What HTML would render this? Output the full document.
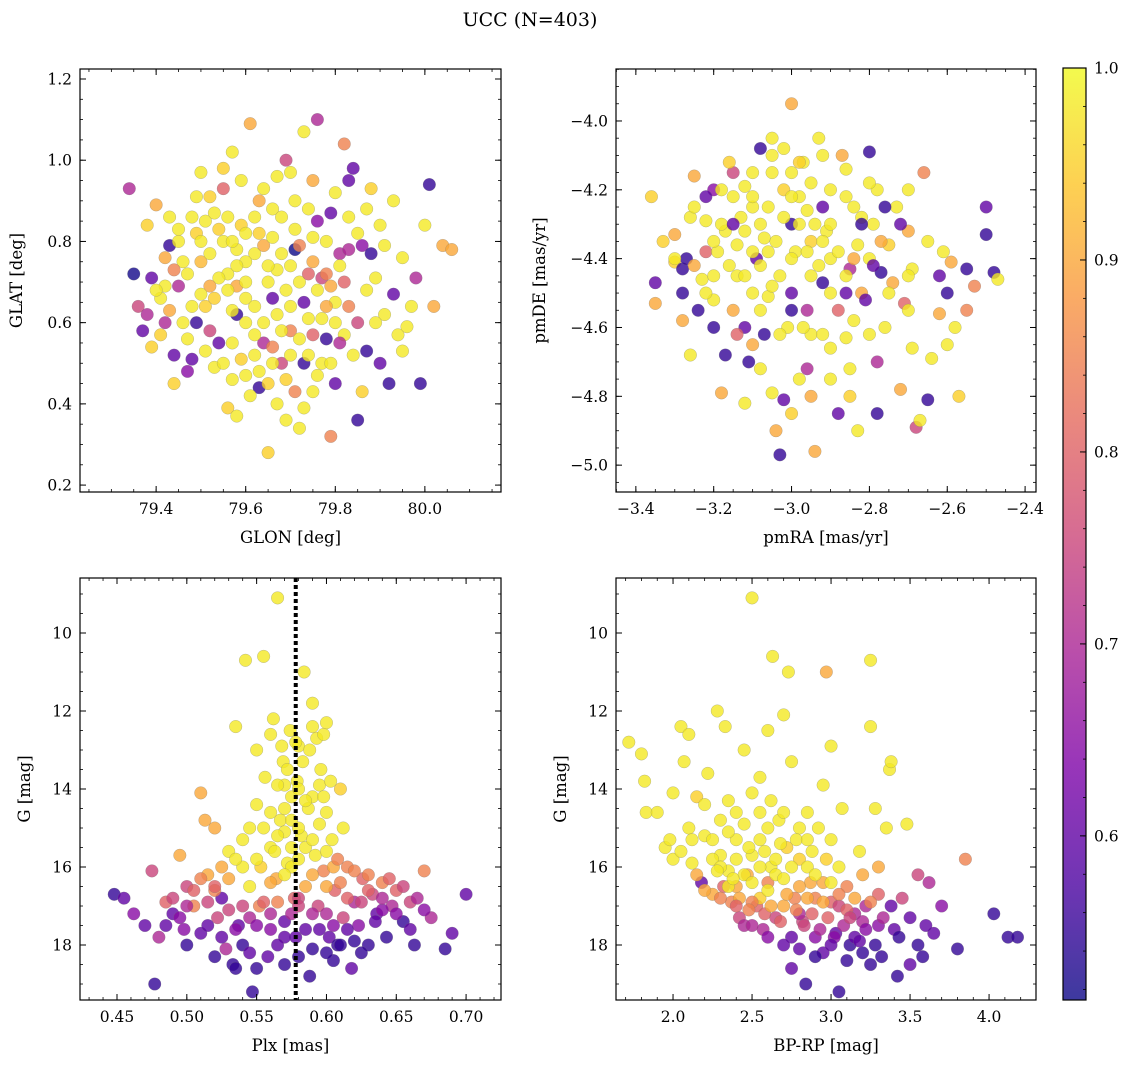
<!DOCTYPE html>
<html><head><meta charset="utf-8">
<style>
html,body{margin:0;padding:0;background:#fff;}
svg{display:block;font-family:"DejaVu Serif","Liberation Serif",serif;}
</style></head>
<body>
<svg id="fig" width="1136" height="1068" viewBox="0 0 1136 1068" xmlns="http://www.w3.org/2000/svg">
<defs>
<linearGradient id="plasma" x1="0" y1="1" x2="0" y2="0">
<stop offset="0" stop-color="#0d0887"/><stop offset="0.125" stop-color="#4c02a1"/><stop offset="0.25" stop-color="#7e03a8"/><stop offset="0.375" stop-color="#a92395"/><stop offset="0.5" stop-color="#cc4778"/><stop offset="0.625" stop-color="#e56b5d"/><stop offset="0.75" stop-color="#f89540"/><stop offset="0.875" stop-color="#fdc527"/><stop offset="1" stop-color="#f0f921"/>
</linearGradient>
</defs>
<text x="530" y="26" font-size="19" text-anchor="middle">UCC (N=403)</text>
</svg>
<script>
const panel1Points=[[79.34,0.93,0.7],[79.35,0.72,0.52],[79.36,0.64,0.75],[79.37,0.58,0.6],[79.38,0.84,0.95],[79.39,0.71,0.6],[79.4,0.89,0.9],[79.39,0.54,0.95],[79.41,0.66,0.98],[79.42,0.76,0.9],[79.43,0.79,0.55],[79.44,0.52,0.6],[79.45,0.69,0.7],[79.46,0.6,0.98],[79.47,0.48,0.65],[79.48,0.86,0.98],[79.49,0.82,0.95],[79.5,0.75,0.92],[79.51,0.64,0.95],[79.5,0.97,0.98],[79.52,0.91,0.95],[79.53,0.49,0.98],[79.54,0.55,0.6],[79.55,0.93,0.8],[79.56,0.72,0.98],[79.57,1.02,0.98],[79.56,0.39,0.95],[79.58,0.37,0.98],[79.58,0.62,0.55],[79.59,0.84,0.95],[79.6,0.66,0.98],[79.61,1.09,0.9],[79.62,0.77,0.98],[79.63,0.44,0.55],[79.64,0.55,0.7],[79.65,0.28,0.95],[79.66,0.88,0.98],[79.67,0.73,0.98],[79.68,0.5,0.75],[79.69,1.0,0.75],[79.7,0.64,0.98],[79.7,0.97,0.98],[79.71,0.78,0.5],[79.72,0.34,0.98],[79.73,1.07,0.98],[79.73,0.5,0.55],[79.74,0.61,0.98],[79.75,0.43,0.98],[79.76,1.1,0.7],[79.76,0.85,0.65],[79.77,0.71,0.75],[79.78,0.56,0.55],[79.79,0.32,0.85],[79.8,0.92,0.98],[79.81,0.77,0.7],[79.8,0.45,0.6],[79.82,1.04,0.85],[79.83,0.64,0.85],[79.84,0.98,0.6],[79.85,0.36,0.55],[79.86,0.79,0.65],[79.87,0.53,0.55],[79.88,0.93,0.95],[79.89,0.71,0.98],[79.9,0.84,0.98],[79.91,0.62,0.98],[79.92,0.45,0.55],[79.93,0.9,0.98],[79.94,0.57,0.98],[79.95,0.76,0.98],[79.96,0.59,0.98],[79.98,0.71,0.7],[79.99,0.45,0.55],[80.0,0.84,0.98],[80.01,0.94,0.55],[80.02,0.64,0.9],[80.04,0.79,0.9],[80.06,0.78,0.9],[79.55,0.8,0.98],[79.6,0.75,0.98],[79.63,0.82,0.95],[79.65,0.7,0.98],[79.67,0.62,0.98],[79.7,0.58,0.85],[79.72,0.7,0.98],[79.75,0.75,0.9],[79.78,0.8,0.98],[79.8,0.65,0.98],[79.77,0.5,0.98],[79.69,0.46,0.95],[79.62,0.57,0.98],[79.58,0.69,0.9],[79.53,0.66,0.95],[79.47,0.72,0.98],[79.45,0.8,0.98],[79.51,0.85,0.98],[79.57,0.55,0.98],[79.66,0.66,0.6],[79.74,0.88,0.98],[79.82,0.7,0.8],[79.85,0.6,0.75],[79.88,0.77,0.55],[79.42,0.6,0.7],[79.44,0.45,0.95],[79.6,0.47,0.98],[79.83,0.86,0.98],[79.78,0.72,0.85],[79.71,0.83,0.98],[79.64,0.93,0.98],[79.52,0.58,0.75],[79.48,0.51,0.6],[79.86,0.43,0.95],[79.9,0.5,0.6]];
const panel1Extra=[[79.5,0.8,0.98],[79.52,0.77,0.98],[79.54,0.83,0.95],[79.56,0.86,0.98],[79.58,0.78,0.98],[79.6,0.82,0.98],[79.62,0.86,0.98],[79.64,0.79,0.9],[79.66,0.81,0.98],[79.68,0.77,0.98],[79.7,0.74,0.98],[79.72,0.79,0.85],[79.74,0.72,0.8],[79.76,0.68,0.98],[79.78,0.64,0.9],[79.8,0.6,0.98],[79.82,0.57,0.98],[79.84,0.52,0.98],[79.76,0.47,0.98],[79.74,0.52,0.98],[79.72,0.56,0.98],[79.7,0.52,0.98],[79.68,0.58,0.98],[79.66,0.54,0.85],[79.64,0.6,0.98],[79.62,0.64,0.98],[79.6,0.7,0.98],[79.58,0.74,0.98],[79.56,0.68,0.98],[79.54,0.71,0.98],[79.52,0.69,0.9],[79.5,0.67,0.98],[79.48,0.64,0.98],[79.46,0.75,0.98],[79.44,0.73,0.85],[79.42,0.69,0.98],[79.4,0.68,0.98],[79.38,0.62,0.7],[79.41,0.57,0.95],[79.43,0.63,0.9],[79.47,0.56,0.98],[79.49,0.6,0.55],[79.51,0.53,0.98],[79.55,0.5,0.98],[79.57,0.46,0.98],[79.59,0.51,0.95],[79.61,0.42,0.98],[79.63,0.48,0.98],[79.65,0.45,0.95],[79.67,0.4,0.98],[79.69,0.36,0.98],[79.71,0.43,0.85],[79.73,0.39,0.98],[79.75,0.57,0.8],[79.77,0.61,0.98],[79.79,0.69,0.9],[79.81,0.74,0.98],[79.83,0.78,0.7],[79.85,0.82,0.98],[79.87,0.68,0.98],[79.89,0.6,0.98],[79.91,0.79,0.98],[79.93,0.67,0.6],[79.95,0.53,0.98],[79.97,0.64,0.98],[79.87,0.88,0.98],[79.83,0.95,0.6],[79.79,0.87,0.6],[79.75,0.95,0.9],[79.71,0.9,0.98],[79.67,0.96,0.98],[79.63,0.9,0.9],[79.59,0.95,0.98],[79.55,0.98,0.95],[79.53,0.87,0.98],[79.49,0.91,0.98],[79.45,0.83,0.98],[79.43,0.86,0.98],[79.69,0.68,0.98],[79.73,0.65,0.6],[79.81,0.55,0.7],[79.79,0.5,0.98],[79.66,0.5,0.98],[79.62,0.52,0.98],[79.6,0.6,0.98],[79.57,0.63,0.98],[79.65,0.74,0.98],[79.68,0.86,0.98],[79.75,0.81,0.98],[79.57,0.8,0.98]];
const panel2Points=[[-3.36,-4.22,0.95],[-3.35,-4.47,0.6],[-3.35,-4.53,0.9],[-3.3,-4.33,0.9],[-3.3,-4.41,0.95],[-3.28,-4.43,0.55],[-3.27,-4.4,0.55],[-3.26,-4.28,0.98],[-3.25,-4.16,0.9],[-3.26,-4.68,0.98],[-3.24,-4.55,0.55],[-3.23,-4.46,0.98],[-3.22,-4.38,0.8],[-3.2,-4.2,0.65],[-3.2,-4.6,0.55],[-3.18,-4.79,0.9],[-3.17,-4.32,0.98],[-3.15,-4.15,0.75],[-3.14,-4.45,0.98],[-3.12,-4.6,0.6],[-3.11,-4.7,0.55],[-3.1,-4.25,0.98],[-3.09,-4.4,0.6],[-3.08,-4.08,0.55],[-3.07,-4.34,0.98],[-3.06,-4.51,0.98],[-3.05,-4.79,0.98],[-3.04,-4.9,0.9],[-3.03,-4.97,0.55],[-3.02,-4.2,0.95],[-3.01,-4.6,0.98],[-3.0,-4.3,0.55],[-2.99,-4.38,0.98],[-2.98,-4.75,0.98],[-2.97,-4.12,0.98],[-2.96,-4.55,0.7],[-2.95,-4.62,0.98],[-2.94,-4.96,0.9],[-2.93,-4.05,0.98],[-2.92,-4.47,0.55],[-2.91,-4.32,0.98],[-2.9,-4.66,0.98],[-2.88,-4.85,0.6],[-2.87,-4.1,0.9],[-2.86,-4.22,0.98],[-2.85,-4.43,0.7],[-2.84,-4.58,0.98],[-2.83,-4.9,0.98],[-2.82,-4.5,0.9],[-2.8,-4.09,0.55],[-2.79,-4.3,0.98],[-2.78,-4.7,0.7],[-2.77,-4.44,0.55],[-2.76,-4.6,0.98],[-2.75,-4.36,0.95],[-2.74,-4.47,0.9],[-2.72,-4.78,0.9],[-2.71,-4.53,0.8],[-2.7,-4.32,0.9],[-2.69,-4.66,0.98],[-2.68,-4.89,0.75],[-2.67,-4.87,0.98],[-2.66,-4.15,0.85],[-2.65,-4.81,0.55],[-2.64,-4.69,0.98],[-2.62,-4.56,0.9],[-2.61,-4.38,0.98],[-2.6,-4.5,0.55],[-2.59,-4.41,0.9],[-2.58,-4.6,0.98],[-2.57,-4.8,0.95],[-2.55,-4.43,0.55],[-2.53,-4.48,0.85],[-2.5,-4.25,0.6],[-2.5,-4.33,0.55],[-2.48,-4.44,0.55],[-2.47,-4.46,0.98],[-3.0,-3.95,0.9],[-3.07,-4.62,0.55],[-3.13,-4.28,0.98],[-3.03,-4.45,0.98],[-2.98,-4.22,0.98],[-2.95,-4.35,0.95],[-3.1,-4.5,0.98],[-2.9,-4.4,0.98],[-2.88,-4.55,0.8],[-3.15,-4.55,0.9],[-3.19,-4.38,0.98],[-3.05,-4.15,0.98],[-2.92,-4.25,0.6],[-2.83,-4.36,0.98],[-3.12,-4.19,0.98],[-3.22,-4.29,0.98],[-2.96,-4.72,0.7],[-3.02,-4.81,0.6],[-2.86,-4.63,0.98],[-3.08,-4.42,0.98],[-2.78,-4.2,0.98],[-2.73,-4.25,0.98],[-2.81,-4.52,0.6],[-3.14,-4.62,0.8],[-3.28,-4.58,0.9],[-2.69,-4.43,0.98],[-3.16,-4.12,0.95]];
const panel2Extra=[[-3.2,-4.35,0.98],[-3.18,-4.3,0.98],[-3.16,-4.42,0.98],[-3.14,-4.36,0.98],[-3.12,-4.32,0.98],[-3.1,-4.38,0.98],[-3.08,-4.3,0.98],[-3.06,-4.25,0.98],[-3.04,-4.35,0.98],[-3.02,-4.28,0.98],[-3.0,-4.22,0.98],[-2.98,-4.3,0.98],[-2.96,-4.26,0.98],[-2.94,-4.3,0.98],[-2.92,-4.35,0.98],[-2.9,-4.3,0.98],[-2.88,-4.38,0.98],[-2.86,-4.45,0.98],[-2.84,-4.4,0.9],[-2.82,-4.28,0.98],[-2.8,-4.4,0.98],[-3.15,-4.22,0.98],[-3.1,-4.15,0.98],[-3.05,-4.1,0.98],[-3.0,-4.15,0.98],[-2.95,-4.18,0.98],[-2.9,-4.2,0.98],[-3.12,-4.45,0.98],[-3.05,-4.48,0.98],[-3.0,-4.4,0.98],[-2.95,-4.45,0.98],[-2.9,-4.5,0.98],[-3.2,-4.52,0.98],[-3.25,-4.42,0.9],[-3.22,-4.5,0.98],[-3.0,-4.55,0.55],[-2.97,-4.6,0.98],[-3.1,-4.65,0.9],[-3.17,-4.68,0.55],[-2.85,-4.72,0.98],[-2.8,-4.62,0.98],[-2.75,-4.5,0.98],[-2.7,-4.45,0.98],[-2.65,-4.35,0.98],[-2.72,-4.3,0.6],[-2.77,-4.35,0.9],[-2.82,-4.3,0.55],[-2.79,-4.42,0.6],[-2.86,-4.5,0.6],[-3.0,-4.5,0.6],[-3.08,-4.55,0.98],[-3.2,-4.45,0.98],[-3.28,-4.5,0.55],[-3.3,-4.4,0.98],[-3.33,-4.35,0.95],[-3.25,-4.25,0.98],[-2.92,-4.62,0.98],[-2.95,-4.8,0.9],[-2.9,-4.75,0.98],[-2.85,-4.8,0.95],[-2.78,-4.85,0.55],[-3.08,-4.72,0.98],[-3.12,-4.82,0.98],[-3.0,-4.85,0.95],[-2.7,-4.55,0.98],[-2.6,-4.65,0.98],[-2.55,-4.55,0.85],[-2.62,-4.45,0.6],[-2.7,-4.2,0.98],[-2.76,-4.25,0.55],[-2.98,-4.12,0.95],[-3.02,-4.08,0.98],[-3.05,-4.05,0.98],[-2.92,-4.1,0.98],[-2.86,-4.14,0.98],[-3.18,-4.2,0.98],[-3.22,-4.22,0.6],[-3.15,-4.3,0.6],[-3.1,-4.22,0.98],[-2.96,-4.38,0.98],[-2.93,-4.42,0.98],[-3.03,-4.62,0.98],[-3.06,-4.38,0.98],[-2.84,-4.25,0.98],[-2.8,-4.18,0.98]];
const panel3Points=[[0.448,16.7,0.55],[0.455,16.8,0.6],[0.462,17.2,0.65],[0.47,17.5,0.6],[0.475,16.1,0.75],[0.477,19.0,0.55],[0.48,17.8,0.7],[0.485,16.9,0.8],[0.49,17.2,0.6],[0.495,15.7,0.9],[0.498,17.6,0.65],[0.5,16.5,0.75],[0.505,17.0,0.85],[0.51,14.1,0.9],[0.513,14.8,0.9],[0.515,16.2,0.9],[0.52,15.0,0.9],[0.522,17.3,0.75],[0.525,16.8,0.6],[0.528,18.1,0.7],[0.53,15.6,0.98],[0.533,18.5,0.55],[0.535,12.4,0.98],[0.537,17.5,0.6],[0.54,15.3,0.98],[0.542,10.7,0.98],[0.545,16.5,0.98],[0.547,19.2,0.55],[0.55,14.4,0.98],[0.552,17.0,0.85],[0.555,10.6,0.98],[0.556,13.7,0.98],[0.558,18.3,0.6],[0.56,15.5,0.98],[0.562,12.2,0.98],[0.564,16.3,0.9],[0.565,9.1,0.98],[0.567,14.8,0.98],[0.569,13.3,0.98],[0.57,17.4,0.6],[0.572,15.9,0.98],[0.574,12.5,0.98],[0.575,14.2,0.98],[0.577,16.8,0.8],[0.579,13.8,0.98],[0.58,18.3,0.55],[0.582,15.2,0.98],[0.584,11.0,0.98],[0.585,16.5,0.9],[0.587,14.5,0.98],[0.588,18.8,0.55],[0.59,12.4,0.98],[0.592,15.7,0.98],[0.594,17.0,0.75],[0.596,13.5,0.98],[0.598,16.1,0.85],[0.6,14.6,0.98],[0.602,17.8,0.6],[0.604,15.3,0.98],[0.606,16.6,0.8],[0.608,18.0,0.55],[0.61,14.0,0.95],[0.612,17.3,0.75],[0.615,16.0,0.85],[0.618,18.6,0.6],[0.62,16.9,0.7],[0.623,17.5,0.65],[0.626,16.3,0.8],[0.63,18.0,0.55],[0.633,16.7,0.75],[0.636,17.2,0.6],[0.64,16.4,0.85],[0.643,17.8,0.55],[0.647,17.0,0.7],[0.65,16.6,0.8],[0.655,17.4,0.55],[0.66,16.9,0.75],[0.663,18.0,0.55],[0.67,16.1,0.85],[0.675,17.3,0.7],[0.685,18.1,0.55],[0.69,17.7,0.6],[0.7,16.7,0.6],[0.57,15.1,0.98],[0.58,14.0,0.98],[0.575,16.0,0.98],[0.585,15.5,0.98],[0.565,16.9,0.85],[0.59,17.2,0.7],[0.56,17.6,0.65],[0.595,14.9,0.98],[0.553,16.0,0.95],[0.578,17.8,0.6],[0.6,16.5,0.9],[0.545,17.3,0.7],[0.615,17.6,0.6],[0.52,16.6,0.85],[0.51,17.7,0.6],[0.58,12.9,0.98],[0.57,13.9,0.98],[0.59,14.2,0.98],[0.563,15.6,0.98],[0.63,16.2,0.85],[0.5,18.0,0.55],[0.54,18.0,0.55],[0.605,18.4,0.55],[0.62,17.9,0.55],[0.64,17.1,0.65]];
const panel3Extra=[[0.57,14.5,0.98],[0.575,14.8,0.98],[0.58,15.0,0.98],[0.585,14.3,0.98],[0.59,15.3,0.98],[0.595,13.9,0.98],[0.6,15.6,0.98],[0.565,15.2,0.98],[0.56,14.6,0.98],[0.555,15.0,0.98],[0.572,13.5,0.98],[0.578,12.8,0.98],[0.583,13.3,0.98],[0.588,13.0,0.98],[0.593,12.7,0.98],[0.598,12.6,0.98],[0.568,12.9,0.98],[0.575,15.5,0.98],[0.58,15.8,0.98],[0.57,16.2,0.98],[0.59,16.2,0.9],[0.56,16.4,0.9],[0.55,15.8,0.98],[0.545,15.0,0.98],[0.54,16.0,0.98],[0.535,15.8,0.98],[0.53,16.3,0.9],[0.525,16.0,0.9],[0.52,16.5,0.8],[0.515,16.9,0.75],[0.51,16.3,0.85],[0.505,16.6,0.8],[0.5,17.0,0.7],[0.495,17.3,0.65],[0.49,16.8,0.75],[0.485,17.5,0.6],[0.605,16.0,0.9],[0.61,16.4,0.85],[0.615,16.8,0.8],[0.62,16.1,0.85],[0.625,16.9,0.75],[0.63,16.6,0.8],[0.635,17.4,0.6],[0.64,16.8,0.7],[0.645,16.3,0.8],[0.65,17.2,0.65],[0.655,16.5,0.75],[0.66,17.6,0.6],[0.665,16.8,0.7],[0.67,17.1,0.65],[0.58,16.8,0.75],[0.575,17.2,0.7],[0.57,17.8,0.6],[0.565,18.0,0.6],[0.56,17.2,0.7],[0.555,16.9,0.8],[0.55,17.5,0.65],[0.545,18.2,0.6],[0.54,17.0,0.75],[0.535,17.6,0.65],[0.53,17.1,0.75],[0.525,17.8,0.6],[0.52,18.3,0.55],[0.515,17.5,0.6],[0.595,17.6,0.6],[0.6,17.2,0.7],[0.605,17.5,0.65],[0.61,18.0,0.55],[0.59,18.1,0.55],[0.585,17.6,0.6],[0.58,17.0,0.75],[0.625,18.2,0.55],[0.6,18.2,0.55],[0.57,18.5,0.55],[0.55,18.6,0.55],[0.535,18.6,0.55],[0.598,14.2,0.98],[0.603,13.8,0.98],[0.608,15.8,0.85],[0.612,15.0,0.98],[0.565,13.9,0.98],[0.55,13.0,0.98],[0.56,12.6,0.98],[0.59,11.8,0.98],[0.6,12.3,0.98]];
const panel4Points=[[1.72,12.8,0.98],[1.8,13.1,0.98],[1.82,13.8,0.98],[1.83,14.6,0.98],[1.9,14.6,0.98],[1.95,15.5,0.98],[1.98,15.3,0.98],[2.0,14.1,0.98],[2.0,15.8,0.98],[2.05,12.4,0.98],[2.07,13.3,0.98],[2.1,12.6,0.98],[2.12,15.9,0.98],[2.15,14.2,0.95],[2.18,16.4,0.6],[2.2,15.2,0.98],[2.22,13.6,0.98],[2.25,16.7,0.9],[2.28,12.0,0.98],[2.3,15.7,0.98],[2.32,16.5,0.8],[2.33,12.4,0.98],[2.35,14.3,0.98],[2.37,16.9,0.85],[2.4,15.3,0.98],[2.42,17.3,0.75],[2.45,13.0,0.98],[2.47,16.2,0.9],[2.5,9.1,0.98],[2.5,15.7,0.98],[2.53,17.0,0.8],[2.55,13.7,0.98],[2.57,17.6,0.7],[2.6,12.5,0.98],[2.62,16.0,0.98],[2.63,10.6,0.98],[2.65,17.3,0.75],[2.67,14.8,0.98],[2.7,12.1,0.98],[2.72,15.5,0.95],[2.73,11.0,0.98],[2.75,18.6,0.6],[2.77,16.8,0.85],[2.8,15.8,0.95],[2.82,17.4,0.75],[2.84,19.0,0.55],[2.85,14.6,0.98],[2.87,16.4,0.9],[2.9,17.8,0.65],[2.92,15.0,0.98],[2.95,18.2,0.6],[2.97,11.0,0.9],[3.0,12.9,0.98],[3.0,16.9,0.8],[3.03,17.7,0.6],[3.05,19.2,0.55],[3.07,14.5,0.98],[3.1,16.5,0.85],[3.12,18.0,0.55],[3.15,17.2,0.7],[3.18,15.6,0.98],[3.2,18.2,0.55],[3.22,17.0,0.7],[3.25,10.7,0.98],[3.25,12.4,0.98],[3.28,14.5,0.98],[3.3,16.7,0.8],[3.32,18.3,0.55],[3.35,15.0,0.98],[3.37,13.5,0.98],[3.4,17.6,0.6],[3.42,18.8,0.55],[3.45,16.8,0.75],[3.48,14.9,0.98],[3.5,17.3,0.6],[3.55,16.2,0.75],[3.58,18.3,0.55],[3.62,16.4,0.7],[3.65,17.7,0.6],[3.7,17.0,0.65],[3.8,18.1,0.55],[3.85,15.8,0.85],[4.03,17.2,0.55],[4.12,17.8,0.55],[4.18,17.8,0.55],[2.4,16.5,0.9],[2.55,16.8,0.95],[2.6,16.4,0.85],[2.7,17.0,0.9],[2.8,17.2,0.7],[2.9,16.8,0.85],[2.95,16.4,0.9],[3.05,17.0,0.75],[2.65,16.2,0.98],[2.45,17.5,0.7],[2.75,17.8,0.6],[2.85,16.0,0.98],[2.5,16.9,0.85],[3.15,17.8,0.6],[3.3,17.5,0.65],[2.35,16.1,0.98],[2.25,15.8,0.98],[2.6,15.0,0.98],[2.8,15.0,0.98],[2.55,15.3,0.98]];
const panel4Extra=[[2.3,16.0,0.98],[2.35,16.5,0.98],[2.4,15.8,0.98],[2.45,16.2,0.98],[2.5,16.4,0.98],[2.55,16.0,0.98],[2.6,16.6,0.98],[2.65,15.8,0.98],[2.7,16.3,0.98],[2.75,16.0,0.98],[2.8,16.5,0.9],[2.85,16.8,0.9],[2.9,16.2,0.98],[2.95,16.9,0.9],[3.0,16.4,0.98],[3.05,16.7,0.85],[3.1,17.1,0.8],[3.15,16.8,0.9],[3.2,17.4,0.7],[3.25,16.9,0.85],[2.42,16.8,0.9],[2.48,17.1,0.85],[2.58,17.2,0.8],[2.62,17.0,0.9],[2.68,17.4,0.8],[2.72,16.7,0.9],[2.78,17.1,0.85],[2.83,17.5,0.75],[2.88,17.2,0.8],[2.93,17.6,0.7],[2.98,17.3,0.8],[3.02,17.8,0.65],[3.08,17.5,0.7],[3.12,17.3,0.75],[3.18,17.9,0.6],[3.22,17.6,0.65],[3.28,18.0,0.55],[3.33,17.3,0.7],[3.38,17.0,0.6],[3.43,17.8,0.55],[2.6,17.8,0.65],[2.7,18.0,0.6],[2.8,18.1,0.6],[2.9,18.3,0.55],[3.0,18.0,0.6],[3.1,18.4,0.55],[3.25,18.5,0.55],[3.55,18.0,0.55],[3.6,17.5,0.6],[3.5,18.5,0.6],[2.5,17.5,0.7],[2.4,17.0,0.8],[2.3,16.8,0.85],[2.2,16.6,0.9],[2.15,16.2,0.9],[2.25,15.3,0.98],[2.35,15.1,0.98],[2.45,14.9,0.98],[2.55,14.6,0.98],[2.62,14.3,0.98],[2.5,14.1,0.98],[2.4,14.6,0.98],[2.3,14.8,0.98],[2.2,14.4,0.98],[2.1,15.0,0.98],[2.05,15.6,0.98],[2.12,15.3,0.98],[2.7,14.6,0.98],[2.78,15.3,0.98],[2.88,15.6,0.98],[2.97,15.8,0.95],[3.05,16.0,0.98],[3.2,16.2,0.9],[3.3,16.0,0.9],[2.68,15.4,0.98],[2.58,15.6,0.98],[2.48,15.5,0.98],[2.38,16.3,0.98],[2.28,16.1,0.98],[2.85,15.3,0.98],[3.0,15.3,0.98],[2.75,13.3,0.98],[2.95,13.9,0.98],[3.38,13.3,0.98]];
const panel1XTicks=[79.4,79.6,79.8,80.0];
const panel1YTicks=[0.2,0.4,0.6,0.8,1.0,1.2];
const panel2XTicks=[-3.4,-3.2,-3.0,-2.8,-2.6,-2.4];
const panel2YTicks=[-5.0,-4.8,-4.6,-4.4,-4.2,-4.0];
const panel3XTicks=[0.45,0.50,0.55,0.60,0.65,0.70];
const magTicks=[10,12,14,16,18];
const panel4XTicks=[2.0,2.5,3.0,3.5,4.0];
const colorbarTicks=[0.6,0.7,0.8,0.9,1.0];
const plxVline=[0.578];
const probRange=[0.5145,1.0];

const NS="http://www.w3.org/2000/svg";
const svg=document.getElementById('fig');
const stops=[[0,[13,8,135]],[0.125,[76,2,161]],[0.25,[126,3,168]],[0.375,[169,35,149]],[0.5,[204,71,120]],[0.625,[229,107,93]],[0.75,[248,149,64]],[0.875,[253,197,39]],[1,[240,249,33]]];
function plasma(p){let t=(p-probRange[0])/(probRange[1]-probRange[0]);t=Math.max(0,Math.min(1,t));
for(let i=1;i<stops.length;i++){if(t<=stops[i][0]){const a=stops[i-1],b=stops[i];const f=(t-a[0])/(b[0]-a[0]);
return 'rgb('+a[1].map((v,k)=>Math.round(v+(b[1][k]-v)*f)).join(',')+')';}}return 'rgb(240,249,33)';}
function mk(tag,attrs,parent){const e=document.createElementNS(NS,tag);for(const k in attrs)e.setAttribute(k,attrs[k]);(parent||svg).appendChild(e);return e;}
function fmt(v,d){return (v<0?'\u2212':'')+Math.abs(v).toFixed(d);}

function panel(o){
 const g=mk('g',{});
 
 
 const sx=v=>o.x0+(v-o.xmin)/(o.xmax-o.xmin)*(o.x1-o.x0);
 const sy=o.invert?(v=>o.y0+(v-o.ymin)/(o.ymax-o.ymin)*(o.y1-o.y0)):(v=>o.y1-(v-o.ymin)/(o.ymax-o.ymin)*(o.y1-o.y0));
 const pts=mk('g',{},g);
 
 
 o.points.forEach(d=>{
  const c=mk('circle',{cx:sx(d[0]),cy:sy(d[1]),r:6.3,fill:plasma(d[2]),'fill-opacity':0.8,stroke:'#777','stroke-width':0.4,'stroke-opacity':0.6},pts);
  
  
 });
 if(o.vline){o.vline.forEach(v=>{const l=mk('line',{x1:sx(v),x2:sx(v),y1:o.y0,y2:o.y1,stroke:'#000','stroke-width':4,'stroke-dasharray':'4,3'},g);
  
  });}
 const fr=mk('rect',{x:o.x0,y:o.y0,width:o.x1-o.x0,height:o.y1-o.y0,fill:'none',stroke:'#000','stroke-width':1.2},g);
 
 
 for(let v=Math.ceil(o.xmin/o.xminor-1e-6)*o.xminor;v<=o.xmax+1e-9;v+=o.xminor){const x=sx(v);
  mk('line',{x1:x,x2:x,y1:o.y1,y2:o.y1-3,stroke:'#000','stroke-width':0.8},g);mk('line',{x1:x,x2:x,y1:o.y0,y2:o.y0+3,stroke:'#000','stroke-width':0.8},g);}
 for(let v=Math.ceil(o.ymin/o.yminor-1e-6)*o.yminor;v<=o.ymax+1e-9;v+=o.yminor){const y=sy(v);
  mk('line',{x1:o.x0,x2:o.x0+3,y1:y,y2:y,stroke:'#000','stroke-width':0.8},g);mk('line',{x1:o.x1,x2:o.x1-3,y1:y,y2:y,stroke:'#000','stroke-width':0.8},g);}
 o.xticks.forEach(v=>{const x=sx(v);
  mk('line',{x1:x,x2:x,y1:o.y1,y2:o.y1-6,stroke:'#000','stroke-width':1},g);mk('line',{x1:x,x2:x,y1:o.y0,y2:o.y0+6,stroke:'#000','stroke-width':1},g);
  const t=mk('text',{x:x,y:o.y1+22,'font-size':15.5,'text-anchor':'middle'},g);t.textContent=fmt(v,o.xd);
  
  });
 o.yticks.forEach(v=>{const y=sy(v);
  mk('line',{x1:o.x0,x2:o.x0+6,y1:y,y2:y,stroke:'#000','stroke-width':1},g);mk('line',{x1:o.x1,x2:o.x1-6,y1:y,y2:y,stroke:'#000','stroke-width':1},g);
  const t=mk('text',{x:o.x0-8,y:y+5.5,'font-size':15.5,'text-anchor':'end'},g);t.textContent=fmt(v,o.yd);
  
  });
 const xl=mk('text',{x:(o.x0+o.x1)/2,y:o.y1+51,'font-size':16.5,'text-anchor':'middle'},g);xl.textContent=o.xlabel;
 
 
 const yx=o.ylx,yy=(o.y0+o.y1)/2;
 const yl=mk('text',{x:yx,y:yy,'font-size':16.5,'text-anchor':'middle',transform:'rotate(-90 '+yx+' '+yy+')'},g);yl.textContent=o.ylabel;
 
 
}

panel({name:'glon-glat-panel',points:panel1Points.concat(panel1Extra),x0:80,x1:501,y0:69,y1:492,xmin:79.23,xmax:80.17,ymin:0.183,ymax:1.2246,xticks:panel1XTicks,yticks:panel1YTicks,xminor:0.05,yminor:0.05,xd:1,yd:1,xlabel:'GLON [deg]',ylabel:'GLAT [deg]',ylx:22});
panel({name:'proper-motion-panel',points:panel2Points.concat(panel2Extra),x0:616,x1:1036,y0:69,y1:492,xmin:-3.451,xmax:-2.372,ymin:-5.078,ymax:-3.849,xticks:panel2XTicks,yticks:panel2YTicks,xminor:0.05,yminor:0.05,xd:1,yd:1,xlabel:'pmRA [mas/yr]',ylabel:'pmDE [mas/yr]',ylx:545});
panel({name:'parallax-magnitude-panel',points:panel3Points.concat(panel3Extra),x0:80,x1:501,y0:578,y1:1000,xmin:0.4235,xmax:0.725,ymin:8.59,ymax:19.41,invert:true,xticks:panel3XTicks,yticks:magTicks,xminor:0.01,yminor:0.5,xd:2,yd:0,xlabel:'Plx [mas]',ylabel:'G [mag]',ylx:30,vline:plxVline});
panel({name:'color-magnitude-panel',points:panel4Points.concat(panel4Extra),x0:616,x1:1036,y0:578,y1:1000,xmin:1.639,xmax:4.297,ymin:8.59,ymax:19.41,invert:true,xticks:panel4XTicks,yticks:magTicks,xminor:0.1,yminor:0.5,xd:1,yd:0,xlabel:'BP-RP [mag]',ylabel:'G [mag]',ylx:566});

(function(){
 const g=mk('g',{});
 
 
 const x0=1063,x1=1086,y0=68,y1=1000;
 const cy=v=>y1-(v-probRange[0])/(probRange[1]-probRange[0])*(y1-y0);
 mk('rect',{x:x0,y:y0,width:x1-x0,height:y1-y0,fill:'url(#plasma)','fill-opacity':0.8},g);
 mk('rect',{x:x0,y:y0,width:x1-x0,height:y1-y0,fill:'none',stroke:'#000','stroke-width':1.2},g);
 for(let v=0.52;v<=1.0001;v+=0.02){const y=cy(v);mk('line',{x1:x1,x2:x1-3,y1:y,y2:y,stroke:'#000','stroke-width':0.8},g);}
 colorbarTicks.forEach(v=>{const y=cy(v);mk('line',{x1:x1,x2:x1-6,y1:y,y2:y,stroke:'#000','stroke-width':1},g);
  const t=mk('text',{x:x1+8,y:y+5.5,'font-size':15.5},g);t.textContent=v.toFixed(1);
  
  });
})();
</script>
</body></html>
